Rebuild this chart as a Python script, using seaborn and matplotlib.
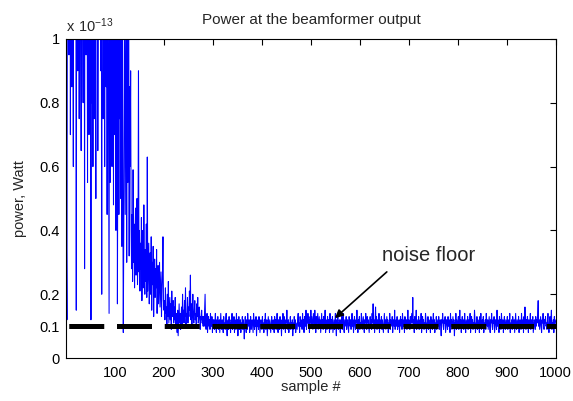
import numpy as np
import pandas as pd
import matplotlib
matplotlib.use("Agg")
import matplotlib.pyplot as plt
import seaborn as sns

# Beamformer output power per sample, in femtowatts (1 fW = 0.01 x 1e-13 W)
power_onset_fw = [
    35, 12, 150, 260, 140, 95, 210, 330, 70, 180, 240, 85, 300, 120, 60, 190, 410, 110, 160, 230,
    15, 270, 150, 90, 350, 200, 75, 175, 290, 110, 65, 220, 380, 130, 80, 260, 180, 28, 240, 160,
    95, 310, 140, 55, 200, 280, 70, 170, 120, 230, 12, 340, 80, 190, 60, 260, 150, 75, 300, 110,
    50, 220, 170, 380, 65, 140, 250, 100, 190, 280, 90, 160, 20, 230, 320, 75, 130, 210, 60, 270,
    150, 85, 190, 45, 260, 120, 65, 14, 170, 55, 140, 290, 95, 60, 200, 125, 48, 180, 240, 70,
    115, 40, 160, 210, 17, 90, 140, 45, 190, 75, 120, 50, 170, 35, 105, 60, 8, 40, 95, 130,
    45, 80, 110, 30, 150, 55, 70, 120, 32, 85, 60, 90, 40,
]
power_decay_fw = [
    28, 45, 24, 59, 30, 42, 22, 38, 47, 26, 35, 50, 23, 33, 90, 27, 40,
    21, 36, 28, 44, 18, 31, 40, 22, 48, 26, 20, 34, 24, 42, 19, 63, 21, 29, 36, 17,
    27, 33, 20, 38, 15, 30, 23, 35, 13, 26, 31, 19, 28, 22, 34, 14, 25, 29, 17, 24,
    30, 16, 22, 27, 13, 21, 26, 38, 18, 15,
]
power_settle_fw = [
    18, 12, 22, 14, 16, 10, 20, 13, 24, 11, 15, 19, 12, 17, 9, 21, 14, 13, 18, 11,
    16, 12, 19, 10, 14, 13, 8, 15, 7, 12, 17, 11, 14, 9, 13, 16, 10, 20, 12, 15,
    11, 18, 13, 22, 10, 14, 12, 19, 11, 16, 13, 21, 15, 26, 12, 17, 10, 14, 20, 13,
    11, 15, 18, 12, 14, 10, 17, 13, 19, 11, 12, 16, 14, 9, 13, 12, 15, 11, 13, 10,
]
power_steady_fw = [
    13, 10, 15, 20, 11, 9, 12, 14, 8, 11, 13, 10, 12, 9, 14, 11, 10, 13, 8, 12,
    10, 12, 9, 11, 14, 10, 8, 12, 11, 13, 9, 10, 12, 8, 11, 14, 10, 9, 12, 11,
    8, 13, 10, 11, 9, 12, 14, 10, 7, 11, 12, 9, 13, 10, 11, 8, 12, 10, 14, 9,
    11, 10, 13, 8, 12, 11, 9, 14, 10, 12, 7, 11, 13, 9, 10, 12, 8, 11, 10, 13,
    9, 12, 10, 6, 11, 13, 10, 8, 12, 9, 14, 11, 10, 12, 8, 10, 13, 9, 11, 12,
    10, 8, 14, 11, 9, 12, 10, 13, 7, 11, 10, 12, 9, 13, 11, 8, 10, 12, 11, 9,
    13, 10, 11, 8, 12, 10, 14, 9, 11, 12, 7, 10, 13, 11, 9, 12, 10, 8, 11, 13,
    10, 9, 12, 11, 8, 13, 10, 12, 9, 11, 14, 10, 8, 12, 11, 9, 13, 10, 11, 7,
    12, 10, 14, 9, 11, 13, 10, 8, 12, 11, 15, 10, 9, 12, 8, 11, 10, 13, 9, 11,
    10, 12, 7, 11, 9, 13, 10, 12, 8, 11, 10, 9, 12, 14, 10, 11, 8, 13, 10, 12,
    11, 9, 14, 10, 12, 8, 13, 11, 10, 15, 9, 12, 11, 14, 10, 13, 8, 12, 11, 15,
    10, 13, 11, 9, 14, 12, 10, 15, 11, 8, 13, 10, 12, 14, 9, 11, 13, 10, 12, 8,
    11, 14, 10, 12, 9, 13, 11, 10, 15, 8, 12, 11, 9, 13, 10, 12, 11, 8, 14, 10,
    9, 12, 11, 13, 8, 10, 12, 9, 11, 14, 10, 7, 12, 11, 13, 9, 10, 12, 11, 8,
    12, 10, 13, 9, 11, 14, 10, 8, 12, 11, 10, 13, 9, 11, 12, 10, 8, 13, 11, 10,
    12, 9, 11, 14, 10, 12, 8, 11, 13, 10, 9, 12, 11, 15, 10, 8, 12, 11, 13, 9,
    11, 10, 14, 12, 9, 11, 13, 10, 8, 12, 11, 14, 10, 9, 13, 11, 12, 10, 8, 11,
    13, 10, 12, 9, 14, 11, 17, 10, 12, 8, 11, 16, 10, 13, 9, 12, 11, 10, 14, 8,
    12, 10, 11, 13, 9, 12, 10, 8, 11, 14, 10, 12, 9, 11, 13, 10, 12, 8, 11, 10,
    14, 9, 12, 11, 10, 13, 8, 11, 12, 10, 15, 9, 11, 12, 10, 13, 9, 11, 10, 12,
    8, 11, 13, 10, 12, 9, 14, 11, 10, 12, 8, 13, 11, 10, 12, 9, 11, 15, 10, 12,
    11, 9, 13, 10, 12, 14, 11, 19, 10, 12, 8, 13, 11, 10, 15, 9, 12, 11, 10, 13,
    9, 11, 12, 10, 14, 8, 11, 13, 10, 12, 9, 11, 10, 14, 12, 8, 11, 10, 13, 9,
    12, 10, 11, 8, 13, 10, 12, 9, 11, 14, 10, 12, 8, 11, 10, 13, 9, 12, 11, 10,
    13, 9, 11, 12, 10, 7, 12, 11, 14, 10, 9, 12, 11, 13, 8, 10, 12, 11, 9, 13,
    10, 12, 11, 8, 14, 10, 12, 9, 11, 13, 10, 12, 7, 11, 10, 14, 9, 12, 11, 10,
    13, 9, 11, 15, 10, 12, 8, 11, 13, 10, 12, 9, 11, 14, 10, 8, 12, 11, 10, 13,
    9, 12, 11, 10, 14, 8, 11, 13, 10, 12, 9, 11, 10, 15, 12, 8, 11, 10, 13, 9,
    12, 10, 11, 8, 13, 10, 14, 9, 11, 12, 10, 13, 8, 11, 10, 12, 9, 14, 11, 10,
    12, 9, 11, 13, 10, 8, 12, 11, 14, 10, 9, 12, 11, 13, 8, 10, 12, 11, 9, 15,
    10, 12, 11, 8, 13, 10, 12, 9, 14, 11, 10, 12, 8, 11, 13, 10, 9, 12, 11, 10,
    13, 9, 11, 12, 10, 14, 8, 11, 10, 12, 9, 13, 11, 10, 12, 8, 11, 14, 10, 9,
    12, 11, 10, 13, 8, 11, 12, 10, 9, 14, 11, 10, 12, 8, 13, 10, 16, 11, 9, 12,
    10, 13, 11, 8, 12, 10, 11, 14, 9, 12, 10, 11, 13, 8, 10, 12, 11, 9, 13, 10,
    12, 11, 14, 18, 10, 12, 9, 11, 13, 10, 8, 12, 11, 14, 10, 9, 12, 11, 13, 10,
    11, 9, 12, 14, 10, 8, 11, 13, 10, 12, 15, 9, 11, 10, 12, 8, 13, 10, 11, 12,
]
noise_floor_fw = 10

x_ticks = [100, 200, 300, 400, 500, 600, 700, 800, 900, 1000]
y_ticks = [0, 0.1, 0.2, 0.4, 0.6, 0.8, 1]
y_tick_labels = ["0", "0.1", "0.2", "0.4", "0.6", "0.8", "1"]

power_fw = power_onset_fw + power_decay_fw + power_settle_fw + power_steady_fw
samples = np.arange(1, len(power_fw) + 1)
# plotted in units of 1e-13 W
df = pd.DataFrame({"sample": samples, "power": np.array(power_fw) / 100.0})
floor_df = pd.DataFrame({"sample": [samples[0], samples[-1]],
                         "power": [noise_floor_fw / 100.0] * 2})

sns.set_theme(style="white")
plt.rcParams["font.family"] = ["Liberation Sans", "DejaVu Sans"]

fig = plt.figure(figsize=(5.73, 4.01), dpi=100)
ax = fig.add_axes([0.116, 0.107, 0.854, 0.796])

sns.lineplot(data=df, x="sample", y="power", ax=ax, color="#0000ff",
             linewidth=0.75, estimator=None, sort=False, legend=False)
signal_line = ax.lines[-1]
sns.lineplot(data=floor_df, x="sample", y="power", ax=ax, color="black",
             linewidth=3.6, estimator=None, legend=False,
             linestyle=(9.0, (7.0, 2.55)))
floor_line = ax.lines[-1]
signal_line.set_zorder(2)
floor_line.set_zorder(4)

ax.set_xlim(1, 1000)
ax.set_ylim(0, 1)
ax.set_xticks(x_ticks)
ax.set_xticklabels([str(t) for t in x_ticks])
ax.set_yticks(y_ticks)
ax.set_yticklabels(y_tick_labels)
ax.tick_params(direction="in", length=4, width=0.8, top=True, right=True,
               labelsize=10.5, colors="black")
ax.tick_params(axis="x", pad=6)
ax.tick_params(axis="y", pad=5)
for s in ax.spines.values():
    s.set_visible(True)
    s.set_color("black")
    s.set_linewidth(0.8)
    s.set_zorder(5)

ax.set_xlabel("sample #", fontsize=10.5, labelpad=0)
ax.set_ylabel("power, Watt", fontsize=10.5, labelpad=9)
ax.set_title("Power at the beamformer output", fontsize=11, pad=11)
ax.text(0.0, 1.012, r"$\mathregular{x\ 10^{-13}}$", transform=ax.transAxes,
        fontsize=10.5, ha="left", va="bottom")

ax.annotate("", xy=(549, 0.125), xytext=(655, 0.27),
            arrowprops=dict(arrowstyle="-|>", color="black", lw=1.2,
                            mutation_scale=12, shrinkA=0, shrinkB=0),
            zorder=6)
ax.text(741, 0.32, "noise floor", fontsize=14.5, ha="center", va="center")

fig.savefig("out.png", dpi=100)
